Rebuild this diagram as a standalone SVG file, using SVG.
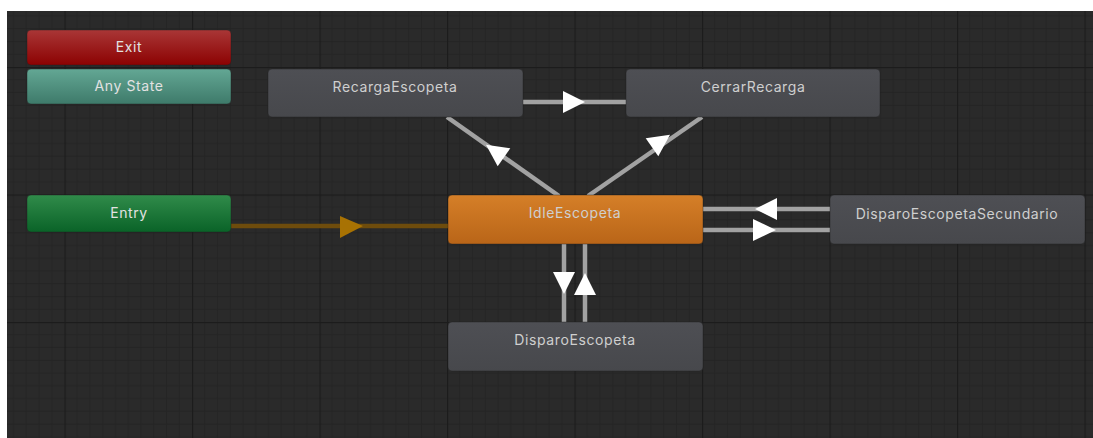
<svg xmlns="http://www.w3.org/2000/svg" width="1093" height="438" viewBox="0 0 1093 438">
<defs>
<pattern id="grid" x="64.5" y="67" width="127.5" height="127.5" patternUnits="userSpaceOnUse">
<rect width="127.5" height="127.5" fill="#2a2a2a"/>
<g stroke="#242424" stroke-width="1">
<path d="M12.75 0V127.5M25.5 0V127.5M38.25 0V127.5M51 0V127.5M63.75 0V127.5M76.5 0V127.5M89.25 0V127.5M102 0V127.5M114.75 0V127.5"/>
<path d="M0 12.75H127.5M0 25.5H127.5M0 38.25H127.5M0 51H127.5M0 63.75H127.5M0 76.5H127.5M0 89.25H127.5M0 102H127.5M0 114.75H127.5"/>
</g>
<path d="M0.5 0V127.5M0 0.5H127.5" stroke="#1c1c1c" stroke-width="1.5"/>
</pattern>
<linearGradient id="gRed" x1="0" y1="0" x2="0" y2="1"><stop offset="0" stop-color="#a93636"/><stop offset="1" stop-color="#8c0202"/></linearGradient>
<linearGradient id="gTeal" x1="0" y1="0" x2="0" y2="1"><stop offset="0" stop-color="#63a794"/><stop offset="1" stop-color="#3e7a6a"/></linearGradient>
<linearGradient id="gGreen" x1="0" y1="0" x2="0" y2="1"><stop offset="0" stop-color="#308b4a"/><stop offset="1" stop-color="#0a6328"/></linearGradient>
<linearGradient id="gOrange" x1="0" y1="0" x2="0" y2="1"><stop offset="0" stop-color="#d57f28"/><stop offset="1" stop-color="#b96518"/></linearGradient>
<linearGradient id="gGray" x1="0" y1="0" x2="0" y2="1"><stop offset="0" stop-color="#4e4f54"/><stop offset="1" stop-color="#47484c"/></linearGradient>
</defs>
<style>
.lbl{font-family:Inter,"Liberation Sans",sans-serif;font-size:14px;letter-spacing:0.6px;text-anchor:middle;fill:#cfcfcf}
.lbl2{font-family:Inter,"Liberation Sans",sans-serif;font-size:14px;letter-spacing:0.6px;text-anchor:middle;fill:#e2e2e2}
.node{stroke:#1e1e1e;stroke-opacity:0.4;stroke-width:1}
.tr{stroke:#a2a2a2;stroke-width:4.5;fill:none}
.ah{fill:#ffffff}
</style>
<rect width="1093" height="438" fill="#ffffff"/>
<rect x="7" y="11" width="1086" height="427" fill="url(#grid)"/>

<g id="connectors">
<line x1="231" y1="226" x2="448" y2="226" stroke="#6e4c0c" stroke-width="4.5"/>
<polygon points="340,216 363,226 340,238" fill="#a87203"/>
<line class="tr" x1="523" y1="102" x2="626" y2="102"/>
<polygon class="ah" points="563,91 585,102 563,113"/>
<line class="tr" x1="559" y1="196" x2="447" y2="117"/>
<polygon class="ah" points="486,144.7 497.7,166.3 510.3,148.3"/>
<line class="tr" x1="588" y1="196" x2="702" y2="117"/>
<polygon class="ah" points="670,134.7 658.3,156.3 645.7,138.3"/>
<line class="tr" x1="703" y1="209" x2="830" y2="209"/>
<polygon class="ah" points="777,198 755,209 777,220"/>
<line class="tr" x1="703" y1="230" x2="830" y2="230"/>
<polygon class="ah" points="753,219 776,230 753,241"/>
<line class="tr" x1="564" y1="244" x2="564" y2="322"/>
<polygon class="ah" points="553,272 575,272 564,294"/>
<line class="tr" x1="585" y1="244" x2="585" y2="322"/>
<polygon class="ah" points="574,295 596,295 585,273"/>
</g>

<g id="node-exit"><rect class="node" x="27" y="30" width="204" height="35" rx="4" fill="url(#gRed)"/><text class="lbl2" x="129" y="52">Exit</text></g>
<g id="node-anystate"><rect class="node" x="27" y="69" width="204" height="35" rx="4" fill="url(#gTeal)"/><text class="lbl2" x="129" y="91">Any State</text></g>
<g id="node-entry"><rect class="node" x="27" y="195" width="204" height="37" rx="4" fill="url(#gGreen)"/><text class="lbl2" x="129" y="218">Entry</text></g>
<g id="node-recarga"><rect class="node" x="268" y="69" width="255" height="48" rx="4" fill="url(#gGray)"/><text class="lbl" x="395" y="92">RecargaEscopeta</text></g>
<g id="node-cerrar"><rect class="node" x="626" y="69" width="254" height="48" rx="4" fill="url(#gGray)"/><text class="lbl" x="753" y="92">CerrarRecarga</text></g>
<g id="node-idle"><rect class="node" x="448" y="195" width="255" height="49" rx="4" fill="url(#gOrange)"/><text class="lbl" x="575" y="218">IdleEscopeta</text></g>
<g id="node-secundario"><rect class="node" x="830" y="195" width="255" height="49" rx="4" fill="url(#gGray)"/><text class="lbl" x="957" y="219">DisparoEscopetaSecundario</text></g>
<g id="node-disparo"><rect class="node" x="448" y="322" width="255" height="49" rx="4" fill="url(#gGray)"/><text class="lbl" x="575" y="345">DisparoEscopeta</text></g>
</svg>
